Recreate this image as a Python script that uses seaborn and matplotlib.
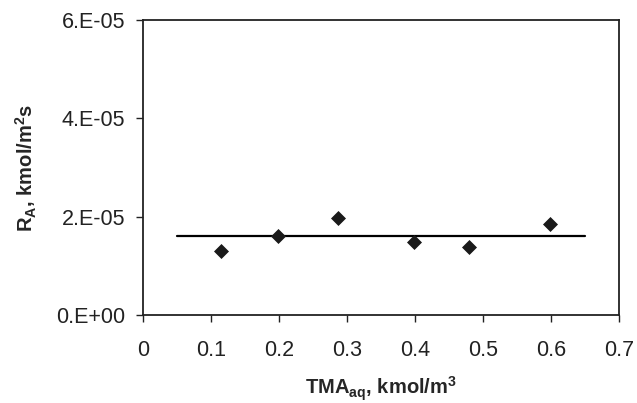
import numpy as np
import matplotlib
matplotlib.use("Agg")
import matplotlib.pyplot as plt
import seaborn as sns
import pandas as pd

# data
tma = [0.115, 0.199, 0.286, 0.398, 0.479, 0.599]
rate = [1.30e-05, 1.60e-05, 1.98e-05, 1.48e-05, 1.39e-05, 1.85e-05]
fit_x = [0.05, 0.65]
fit_y = [1.6e-05, 1.6e-05]
yticks = [0, 2e-05, 4e-05, 6e-05]
ytick_labels = ["0.E+00", "2.E-05", "4.E-05", "6.E-05"]
xticks = [0, 0.1, 0.2, 0.3, 0.4, 0.5, 0.6, 0.7]
xtick_labels = ["0", "0.1", "0.2", "0.3", "0.4", "0.5", "0.6", "0.7"]

sns.set_theme(style="ticks")
plt.rcParams['font.family'] = ['Liberation Sans', 'DejaVu Sans']

fig = plt.figure(figsize=(6.37, 4.03), dpi=100)
ax = fig.add_axes([0.2245, 0.218, 0.7475, 0.732])

pts = pd.DataFrame({"x": tma, "y": rate})
fit = pd.DataFrame({"x": fit_x, "y": fit_y})
sns.lineplot(data=fit, x="x", y="y", ax=ax, color="black", linewidth=1.6)
sns.scatterplot(data=pts, x="x", y="y", ax=ax, marker="D", color="#1a1a1a",
                s=50, edgecolor="#1a1a1a", zorder=3)

ax.set_xlim(0, 0.7)
ax.set_ylim(0, 6e-05)
ax.set_xticks(xticks)
ax.set_xticklabels(xtick_labels)
ax.set_yticks(yticks)
ax.set_yticklabels(ytick_labels)
ax.tick_params(axis="both", labelsize=15.5, direction="out", length=5,
               width=1, colors="#222222", pad=8)
ax.tick_params(axis="x", pad=13)
for sp in ax.spines.values():
    sp.set_visible(True)
    sp.set_linewidth(1.3)
    sp.set_color("#222222")

ax.set_xlabel("TMA$_{\\mathregular{aq}}$, kmol/m$^{\\mathregular{3}}$", fontsize=14.5,
              fontweight="bold", labelpad=10)
ax.set_ylabel("R$_{\\mathregular{A}}$, kmol/m$^{\\mathregular{2}}$s", fontsize=14.5,
              fontweight="bold", labelpad=12)

fig.savefig("out.png", dpi=100)
